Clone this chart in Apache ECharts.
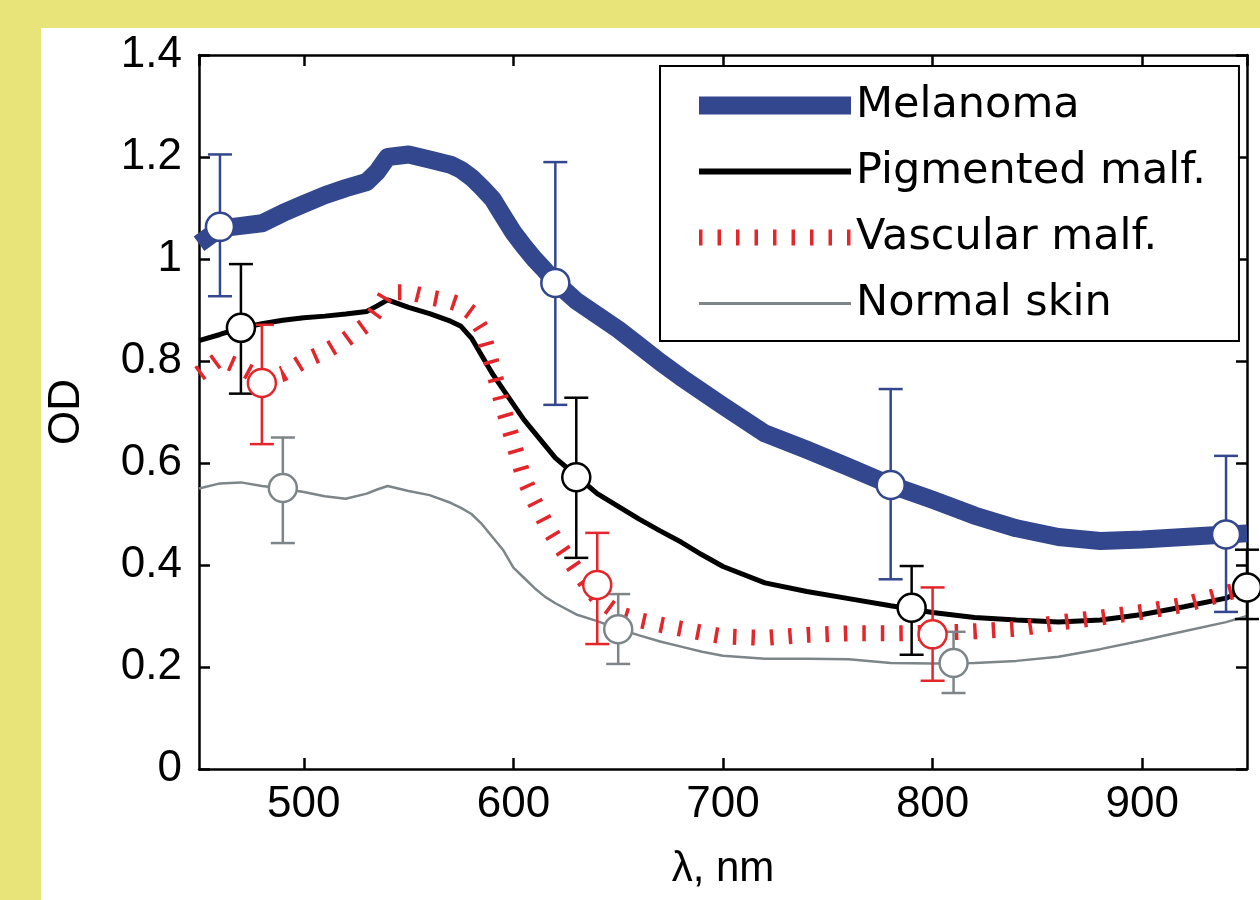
<!DOCTYPE html>
<html>
<head>
<meta charset="utf-8">
<title>OD spectra</title>
<script src="https://cdn.jsdelivr.net/npm/echarts@6.0.0/dist/echarts.min.js"></script>
<style>
    html, body { margin: 0; padding: 0; background: #e9e47a; }
    #main { width: 1260px; height: 900px; }
</style>
</head>
<body>
<div id="main"></div>
<script>
// wavelength grid, nm
let wl = [450, 460, 470, 480, 490, 500, 510, 520, 530, 535, 540, 550, 560, 570, 575, 580, 585, 590, 595, 600,
    605, 610, 615, 620, 630, 640, 650, 660, 670, 680, 690, 700, 720, 740, 760, 780, 800, 820, 840, 860,
    880, 900, 920, 940, 950];

let melanoma = [1.03, 1.06, 1.065, 1.07, 1.09, 1.108, 1.125, 1.139, 1.151, 1.171, 1.2, 1.205, 1.195, 1.185, 1.175, 1.16, 1.14, 1.118, 1.085, 1.052,
    1.025, 1.0, 0.978, 0.955, 0.918, 0.89, 0.862, 0.83, 0.798, 0.768, 0.74, 0.712, 0.658, 0.626, 0.592, 0.557, 0.528, 0.497, 0.472, 0.455,
    0.447, 0.45, 0.455, 0.46, 0.462];

let pigmented = [0.84, 0.852, 0.865, 0.873, 0.88, 0.885, 0.888, 0.892, 0.897, 0.908, 0.92, 0.905, 0.893, 0.878, 0.868, 0.845, 0.81, 0.775, 0.745, 0.715,
    0.685, 0.66, 0.635, 0.61, 0.575, 0.54, 0.515, 0.49, 0.467, 0.445, 0.42, 0.397, 0.365, 0.348, 0.334, 0.32, 0.307, 0.297, 0.292, 0.288,
    0.292, 0.303, 0.318, 0.335, 0.355];

let vascular = [0.775, 0.805, 0.787, 0.765, 0.775, 0.8, 0.818, 0.842, 0.872, 0.9, 0.935, 0.935, 0.925, 0.917, 0.91, 0.895, 0.862, 0.79, 0.71, 0.64,
    0.57, 0.525, 0.485, 0.45, 0.39, 0.335, 0.305, 0.292, 0.283, 0.275, 0.267, 0.26, 0.257, 0.263, 0.266, 0.266, 0.267, 0.27, 0.275, 0.287,
    0.297, 0.308, 0.322, 0.345, 0.355];

let normal = [0.55, 0.56, 0.562, 0.555, 0.55, 0.543, 0.535, 0.53, 0.54, 0.548, 0.555, 0.545, 0.537, 0.522, 0.512, 0.5, 0.48, 0.455, 0.43, 0.395,
    0.375, 0.355, 0.338, 0.325, 0.303, 0.29, 0.275, 0.262, 0.25, 0.24, 0.23, 0.222, 0.216, 0.216, 0.215, 0.208, 0.207, 0.208, 0.212, 0.22,
    0.235, 0.252, 0.27, 0.288, 0.3];

// markers with error bars
let melMarkX = [460, 620, 780, 940];
let melMarkY = [1.063, 0.953, 0.557, 0.46];
let melLow = [0.927, 0.714, 0.372, 0.308];
let melHigh = [1.205, 1.19, 0.745, 0.614];

let pigMarkX = [470, 630, 790, 950];
let pigMarkY = [0.865, 0.572, 0.316, 0.356];
let pigLow = [0.736, 0.414, 0.224, 0.294];
let pigHigh = [0.99, 0.728, 0.398, 0.43];

let vasMarkX = [480, 640, 800];
let vasMarkY = [0.757, 0.361, 0.264];
let vasLow = [0.637, 0.245, 0.173];
let vasHigh = [0.871, 0.463, 0.356];

let norMarkX = [490, 650, 810];
let norMarkY = [0.551, 0.274, 0.208];
let norLow = [0.443, 0.206, 0.149];
let norHigh = [0.65, 0.343, 0.269];

let yTicks = [0, 0.2, 0.4, 0.6, 0.8, 1, 1.2, 1.4];

let names = ['Melanoma', 'Pigmented malf.', 'Vascular malf.', 'Normal skin'];
let colors = ['#33478f', '#000000', '#e3262b', '#7d8589'];

function zip(xs, ys) {
    return xs.map(function (x, i) { return [x, ys[i]]; });
}

function errRows(xs, lo, hi) {
    return xs.map(function (x, i) { return [x, lo[i], hi[i]]; });
}

function errorBarItem(params, api) {
    let x = api.value(0);
    let top = api.coord([x, api.value(2)]);
    let bot = api.coord([x, api.value(1)]);
    let half = 12;
    let style = { stroke: api.visual('color'), lineWidth: 2.5 };
    return {
        type: 'group',
        children: [
            { type: 'line', shape: { x1: top[0], y1: top[1], x2: bot[0], y2: bot[1] }, style: style },
            { type: 'line', shape: { x1: top[0] - half, y1: top[1], x2: top[0] + half, y2: top[1] }, style: style },
            { type: 'line', shape: { x1: bot[0] - half, y1: bot[1], x2: bot[0] + half, y2: bot[1] }, style: style }
        ]
    };
}

function errSeries(idx, rows) {
    return {
        name: names[idx] + ' err',
        type: 'custom',
        renderItem: errorBarItem,
        data: rows,
        encode: { x: 0, y: [1, 2] },
        itemStyle: { color: colors[idx] },
        z: 3,
        silent: true
    };
}

function markSeries(idx, pts) {
    return {
        name: names[idx] + ' mark',
        type: 'scatter',
        data: pts,
        symbol: 'circle',
        symbolSize: 28,
        itemStyle: { color: '#ffffff', borderColor: colors[idx], borderWidth: 2.5, opacity: 1 },
        clip: false,
        z: 4,
        silent: true
    };
}

function axisFont(extra) {
    return Object.assign({ fontFamily: 'Liberation Sans', fontSize: 44, color: '#000' }, extra);
}
function axisLine() {
    return { show: true, onZero: false, lineStyle: { color: '#000', width: 2.5 } };
}
// negative length puts the ticks inside the box
function tickIn() {
    return { show: true, inside: false, length: -11, lineStyle: { color: '#000', width: 2.5 } };
}

let myChart = echarts.init(document.getElementById('main'));

let option = {
    backgroundColor: '#e9e47a',
    animation: false,
    graphic: [
        { type: 'rect', z: -10, silent: true, shape: { x: 41, y: 28, width: 1219, height: 872 }, style: { fill: '#ffffff' } }
    ],
    grid: { left: 199, right: 13, top: 55, bottom: 131, containLabel: false },
    legend: {
        data: [
            { name: names[0], lineStyle: { width: 18, color: colors[0], type: 'solid' } },
            { name: names[1], lineStyle: { width: 6, color: colors[1], type: 'solid' } },
            { name: names[2], lineStyle: { width: 16, color: colors[2], type: [3.5, 15], cap: 'butt' } },
            { name: names[3], lineStyle: { width: 3, color: colors[3], type: 'solid' } }
        ],
        orient: 'vertical',
        left: 660,
        top: 66,
        padding: [18, 33, 16, 30],
        itemWidth: 152,
        itemHeight: 18,
        itemGap: 23,
        backgroundColor: '#ffffff',
        borderColor: '#000',
        borderWidth: 2,
        borderRadius: 0,
        itemStyle: { opacity: 0 },
        textStyle: { fontFamily: 'DejaVu Sans', fontSize: 43, color: '#000' },
        selectedMode: false
    },
    xAxis: [
        {
            type: 'value', min: 450, max: 950, position: 'bottom',
            name: 'λ, nm', nameLocation: 'middle', nameGap: 79,
            nameTextStyle: { fontFamily: 'Liberation Sans', fontSize: 42, color: '#000' },
            axisLine: axisLine(), axisTick: tickIn(),
            axisLabel: axisFont({ margin: 14, showMinLabel: false, showMaxLabel: false }),
            splitLine: { show: false }
        },
        {
            type: 'value', min: 450, max: 950, position: 'top',
            axisLine: axisLine(), axisTick: tickIn(),
            axisLabel: { show: false }, splitLine: { show: false }
        }
    ],
    yAxis: [
        {
            type: 'value', min: yTicks[0], max: yTicks[yTicks.length - 1], interval: 0.2, position: 'left',
            name: 'OD', nameLocation: 'middle', nameGap: 110,
            nameTextStyle: { fontFamily: 'Liberation Sans', fontSize: 44, color: '#000' },
            axisLine: axisLine(), axisTick: tickIn(),
            axisLabel: axisFont({ margin: 17 }),
            splitLine: { show: false }
        },
        {
            type: 'value', min: yTicks[0], max: yTicks[yTicks.length - 1], interval: 0.2, position: 'right',
            axisLine: axisLine(), axisTick: tickIn(),
            axisLabel: { show: false }, splitLine: { show: false }
        }
    ],
    series: [
        {
            name: names[0], type: 'line', data: zip(wl, melanoma), symbol: 'none', z: 2,
            itemStyle: { color: colors[0] },
            lineStyle: { color: colors[0], width: 18, cap: 'butt', join: 'round' }
        },
        {
            name: names[1], type: 'line', data: zip(wl, pigmented), symbol: 'none', z: 2,
            itemStyle: { color: colors[1] },
            lineStyle: { color: colors[1], width: 5 }
        },
        {
            name: names[2], type: 'line', data: zip(wl, vascular), symbol: 'none', z: 2,
            itemStyle: { color: colors[2] },
            lineStyle: { color: colors[2], width: 16, type: [3.5, 15], cap: 'butt' }
        },
        {
            name: names[3], type: 'line', data: zip(wl, normal), symbol: 'none', z: 2,
            itemStyle: { color: colors[3] },
            lineStyle: { color: colors[3], width: 2.5 }
        },
        errSeries(0, errRows(melMarkX, melLow, melHigh)),
        errSeries(1, errRows(pigMarkX, pigLow, pigHigh)),
        errSeries(2, errRows(vasMarkX, vasLow, vasHigh)),
        errSeries(3, errRows(norMarkX, norLow, norHigh)),
        markSeries(0, zip(melMarkX, melMarkY)),
        markSeries(1, zip(pigMarkX, pigMarkY)),
        markSeries(2, zip(vasMarkX, vasMarkY)),
        markSeries(3, zip(norMarkX, norMarkY))
    ]
};

myChart.setOption(option);
</script>
</body>
</html>
